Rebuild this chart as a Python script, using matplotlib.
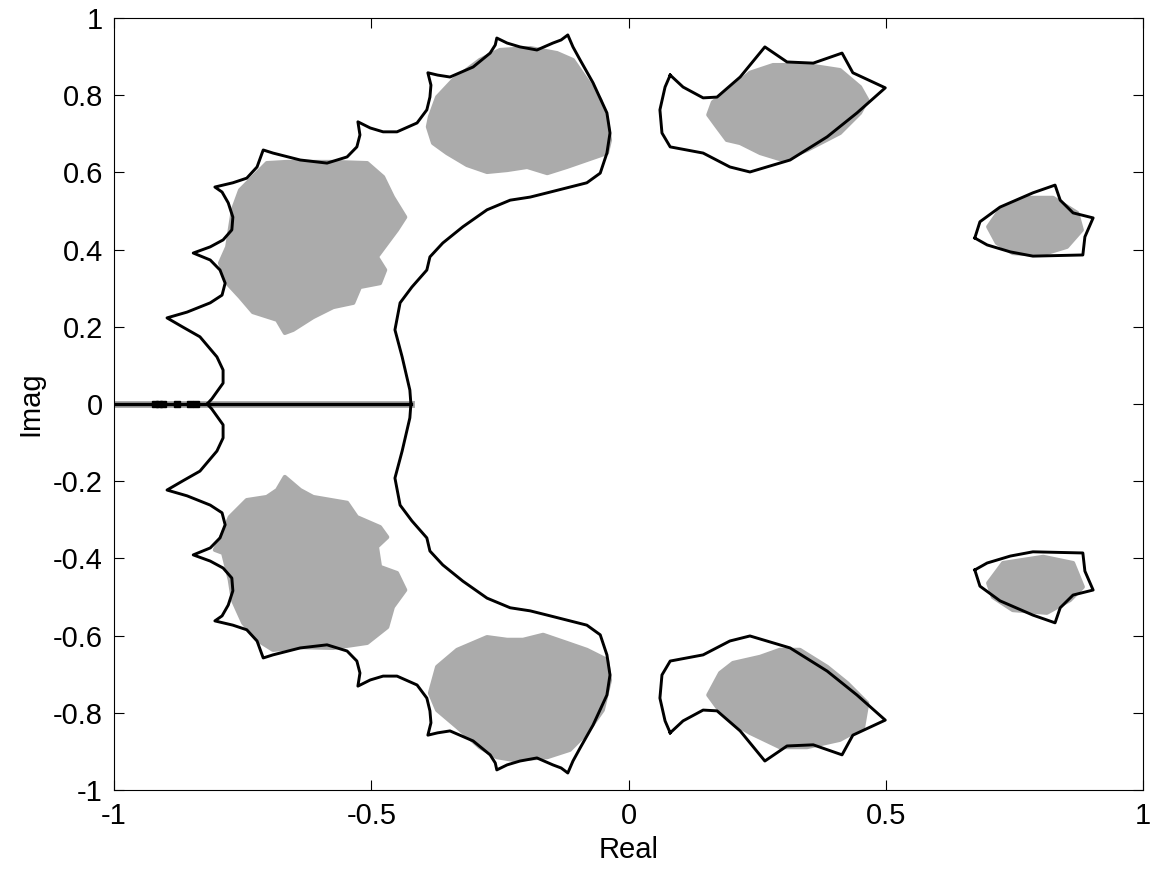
import matplotlib
matplotlib.use("Agg")
from matplotlib import pyplot as plt
import numpy as np

GRAY = "#ababab"

# outer boundary, upper half (mirrored for the lower half)
big_x = [-0.819, -0.810, -0.788, -0.788, -0.800, -0.833, -0.866, -0.897,
         -0.858, -0.813, -0.790, -0.784, -0.794, -0.813, -0.846, -0.813,
         -0.788, -0.771, -0.769, -0.778, -0.790, -0.804, -0.769, -0.742,
         -0.722, -0.710, -0.691, -0.638, -0.586, -0.547, -0.528, -0.522,
         -0.526, -0.502, -0.477, -0.450, -0.411, -0.392, -0.386, -0.384,
         -0.390, -0.371, -0.347, -0.302, -0.269, -0.259, -0.256, -0.236,
         -0.211, -0.178, -0.147, -0.131, -0.118, -0.108, -0.094,
         -0.069, -0.042, -0.036, -0.042, -0.055, -0.081, -0.158, -0.191,
         -0.230, -0.275, -0.322, -0.361, -0.386, -0.392, -0.421, -0.444,
         -0.454, -0.440, -0.425, -0.423]
big_y = [0.000, 0.013, 0.054, 0.088, 0.122, 0.174, 0.199, 0.223,
         0.238, 0.262, 0.282, 0.313, 0.347, 0.373, 0.391, 0.407,
         0.425, 0.451, 0.484, 0.521, 0.549, 0.562, 0.573, 0.585,
         0.614, 0.658, 0.650, 0.632, 0.624, 0.640, 0.666, 0.697,
         0.731, 0.715, 0.705, 0.705, 0.728, 0.762, 0.795, 0.826,
         0.858, 0.852, 0.847, 0.873, 0.909, 0.930, 0.948, 0.935,
         0.925, 0.917, 0.935, 0.943, 0.956, 0.925, 0.891,
         0.832, 0.754, 0.702, 0.650, 0.598, 0.573, 0.547, 0.536,
         0.528, 0.503, 0.459, 0.417, 0.381, 0.347, 0.303, 0.262,
         0.192, 0.122, 0.036, 0.000]

mid_x = [0.081, 0.106, 0.145, 0.172, 0.217, 0.265, 0.308, 0.359, 0.415,
         0.436, 0.499, 0.444, 0.386, 0.314, 0.236, 0.197, 0.145, 0.081,
         0.065, 0.061, 0.071, 0.081]
mid_y = [0.852, 0.821, 0.793, 0.795, 0.847, 0.925, 0.886, 0.883, 0.909,
         0.858, 0.819, 0.754, 0.692, 0.632, 0.601, 0.614, 0.650, 0.666,
         0.702, 0.762, 0.821, 0.852]

small_x = [0.673, 0.683, 0.722, 0.786, 0.829, 0.839, 0.864, 0.903, 0.887,
           0.883, 0.786, 0.742, 0.697, 0.673]
small_y = [0.430, 0.472, 0.510, 0.547, 0.567, 0.528, 0.495, 0.482, 0.433,
           0.386, 0.383, 0.394, 0.412, 0.430]

# eigenvalue clouds (outlines)
ul_x = [-0.769, -0.755, -0.703, -0.664, -0.574, -0.508, -0.477, -0.458,
        -0.434, -0.450, -0.469, -0.489, -0.473, -0.483, -0.522, -0.535,
        -0.574, -0.613, -0.652, -0.668, -0.683, -0.730, -0.755, -0.780,
        -0.794, -0.780, -0.775]
ul_y = [0.503, 0.554, 0.624, 0.627, 0.627, 0.624, 0.588, 0.536,
        0.484, 0.451, 0.417, 0.381, 0.347, 0.313, 0.303, 0.262,
        0.251, 0.225, 0.192, 0.184, 0.218, 0.238, 0.277, 0.313,
        0.365, 0.407, 0.451]

ll_x = [-0.668, -0.638, -0.613, -0.547, -0.528, -0.483, -0.469, -0.489,
        -0.483, -0.450, -0.434, -0.458, -0.469, -0.508, -0.574, -0.638,
        -0.691, -0.722, -0.749, -0.769, -0.775, -0.788, -0.804, -0.788,
        -0.775, -0.742, -0.703, -0.683]
ll_y = [-0.189, -0.223, -0.241, -0.256, -0.293, -0.319, -0.345, -0.370,
        -0.422, -0.438, -0.482, -0.526, -0.578, -0.619, -0.632, -0.630,
        -0.637, -0.611, -0.567, -0.508, -0.456, -0.386, -0.378, -0.334,
        -0.293, -0.249, -0.241, -0.223]

um_x = [-0.386, -0.372, -0.341, -0.289, -0.250, -0.191, -0.139, -0.108,
        -0.081, -0.055, -0.042, -0.036, -0.042, -0.081, -0.120, -0.158,
        -0.197, -0.236, -0.275, -0.314, -0.353, -0.380, -0.390]
um_y = [0.744, 0.795, 0.839, 0.891, 0.917, 0.922, 0.909, 0.891,
        0.839, 0.788, 0.736, 0.684, 0.650, 0.632, 0.614, 0.598,
        0.614, 0.606, 0.601, 0.619, 0.650, 0.676, 0.718]

lm_x = [-0.386, -0.372, -0.333, -0.275, -0.236, -0.205, -0.166, -0.120,
        -0.081, -0.042, -0.036, -0.050, -0.081, -0.114, -0.158, -0.224,
        -0.256, -0.289, -0.333, -0.372]
lm_y = [-0.749, -0.681, -0.637, -0.604, -0.611, -0.611, -0.598, -0.619,
        -0.637, -0.663, -0.715, -0.793, -0.852, -0.896, -0.915, -0.922,
        -0.915, -0.889, -0.837, -0.793]

ur_x = [0.155, 0.164, 0.197, 0.236, 0.281, 0.347, 0.411, 0.450, 0.464,
        0.450, 0.411, 0.347, 0.300, 0.256, 0.217, 0.191, 0.172]
ur_y = [0.749, 0.782, 0.813, 0.858, 0.878, 0.878, 0.865, 0.821, 0.788,
        0.754, 0.702, 0.658, 0.632, 0.650, 0.676, 0.684, 0.718]

lr_x = [0.155, 0.178, 0.203, 0.256, 0.294, 0.333, 0.386, 0.425, 0.464,
        0.456, 0.411, 0.347, 0.294, 0.236, 0.203, 0.172]
lr_y = [-0.754, -0.697, -0.671, -0.655, -0.637, -0.637, -0.681, -0.723,
        -0.775, -0.837, -0.870, -0.889, -0.889, -0.852, -0.826, -0.785]

su_x = [0.699, 0.722, 0.775, 0.825, 0.872, 0.881, 0.852, 0.800, 0.747, 0.716]
su_y = [0.459, 0.503, 0.534, 0.534, 0.495, 0.451, 0.407, 0.386, 0.391, 0.417]

sl_x = [0.699, 0.728, 0.806, 0.864, 0.883, 0.858, 0.813, 0.747, 0.708]
sl_y = [-0.464, -0.412, -0.396, -0.412, -0.474, -0.508, -0.541, -0.534,
        -0.500]

# real-axis eigenvalues
axis_x = [-1.0, -0.423]
axis_marks_x = [-0.920, -0.912, -0.904, -0.878, -0.852, -0.840]

x_ticks = [-1, -0.5, 0, 0.5, 1]
x_labels = ["-1", "-0.5", "0", "0.5", "1"]
y_ticks = [-1, -0.8, -0.6, -0.4, -0.2, 0, 0.2, 0.4, 0.6, 0.8, 1]
y_labels = ["-1", "-0.8", "-0.6", "-0.4", "-0.2", "0", "0.2", "0.4",
            "0.6", "0.8", "1"]


def draw_clouds(ax) -> None:
    """Fill the gray eigenvalue clouds."""
    clouds = [(ul_x, ul_y), (ll_x, ll_y), (um_x, um_y), (lm_x, lm_y),
              (ur_x, ur_y), (lr_x, lr_y), (su_x, su_y), (sl_x, sl_y)]
    for xs, ys in clouds:
        ax.fill(xs, ys, facecolor=GRAY, edgecolor=GRAY, lw=3,
                joinstyle="round", zorder=1)


def draw_boundaries(ax) -> None:
    """Draw the black boundary curves, mirrored about the real axis."""
    for xs, ys in [(big_x, big_y), (mid_x, mid_y), (small_x, small_y)]:
        for sign in (1, -1):
            ax.plot(xs, sign * np.asarray(ys), color="black", lw=2.1,
                    solid_joinstyle="round", zorder=3)

    ax.plot(axis_x, [0, 0], color=GRAY, lw=5, zorder=2)
    ax.plot(axis_x, [0, 0], color="black", lw=2.4, zorder=3)
    ax.plot(axis_marks_x, np.zeros(len(axis_marks_x)), "s", color="black",
            ms=4, zorder=3)


def main() -> None:
    plt.rcParams["font.family"] = ["Liberation Sans", "DejaVu Sans"]
    fig = plt.figure(figsize=(11.54, 8.76), dpi=100)
    ax = fig.add_axes([0.0988, 0.0982, 0.8917, 0.8813])

    draw_clouds(ax)
    draw_boundaries(ax)

    ax.set_xlim(-1, 1)
    ax.set_ylim(-1, 1)
    ax.set_xticks(x_ticks, x_labels)
    ax.set_yticks(y_ticks, y_labels)
    ax.tick_params(direction="in", length=7, width=0.8, labelsize=21,
                   top=True, right=True)
    ax.tick_params(axis="x", pad=9)
    ax.tick_params(axis="y", pad=8)
    for spine in ax.spines.values():
        spine.set_linewidth(0.8)

    ax.set_xlabel("Real", fontsize=21, labelpad=4)
    ax.set_ylabel("Imag", fontsize=21, labelpad=6)

    fig.savefig("out.png", dpi=100)


if __name__ == "__main__":
    main()
